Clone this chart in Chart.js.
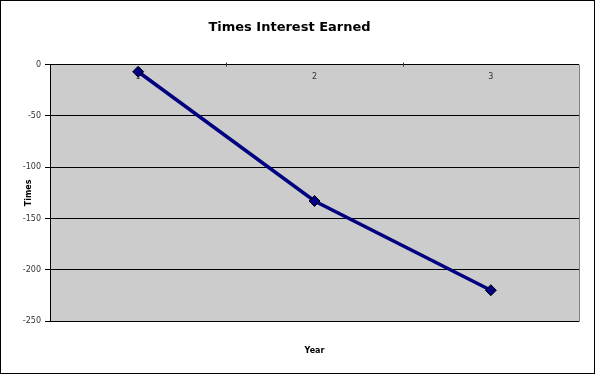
<!DOCTYPE html>
<html>
<head>
<meta charset="utf-8">
<script src="https://cdn.jsdelivr.net/npm/chart.js@4/dist/chart.umd.min.js"></script>
<style>
  html, body { margin: 0; padding: 0; background: #fff; }
  #wrap { width: 595px; height: 374px; position: relative; }
</style>
</head>
<body>
<div id="wrap"><canvas id="chartTIE" width="595" height="374"></canvas></div>
<script>
// data kept in small arrays
const years = ['1', '2', '3'];
const timesEarned = [-7, -133, -220];
const yTicks = [0, -50, -100, -150, -200, -250];

// grey plot background + outer frame
const plotBg = {
  id: 'plotBg',
  beforeDraw(chart) {
    const { ctx, chartArea: a } = chart;
    ctx.save();
    ctx.fillStyle = '#cccccc';
    ctx.fillRect(a.left, a.top, a.right - a.left, a.bottom - a.top);
    ctx.strokeStyle = '#808080';
    ctx.lineWidth = 1;
    ctx.beginPath();
    ctx.moveTo(a.left, a.bottom + 0.5);
    ctx.lineTo(a.right + 0.5, a.bottom + 0.5);
    ctx.lineTo(a.right + 0.5, a.top);
    ctx.stroke();
    ctx.restore();
  },
  afterDraw(chart) {
    const ctx = chart.ctx;
    ctx.save();
    ctx.strokeStyle = '#000';
    ctx.lineWidth = 1;
    ctx.strokeRect(0.5, 0.5, chart.width - 1, chart.height - 1);
    ctx.restore();
  }
};

// category labels sit just under the zero line (axis crosses at 0)
const topLabels = {
  id: 'topLabels',
  beforeDatasetsDraw(chart) {
    const { ctx, chartArea: a } = chart;
    const x = chart.scales.x;
    ctx.save();
    ctx.font = '8px "DejaVu Sans"';
    ctx.fillStyle = '#333';
    ctx.textAlign = 'center';
    ctx.textBaseline = 'middle';
    years.forEach((lab, i) => {
      ctx.fillText(lab, x.getPixelForValue(i), a.top + 12);
    });
    // small tick marks between categories
    ctx.strokeStyle = '#333';
    ctx.beginPath();
    for (let i = 1; i < years.length; i++) {
      const px = Math.round((x.getPixelForValue(i - 1) + x.getPixelForValue(i)) / 2) + 0.5;
      ctx.moveTo(px, a.top - 2);
      ctx.lineTo(px, a.top + 2);
    }
    ctx.stroke();
    ctx.restore();
  }
};

const config = {
  type: 'line',
  data: {
    labels: years,
    datasets: [{
      label: 'Times Interest Earned',
      data: timesEarned,
      borderColor: '#000080',
      borderWidth: 3.5,
      backgroundColor: '#000080',
      pointStyle: 'rectRot',
      pointRadius: 5.5,
      pointBackgroundColor: '#000080',
      pointBorderColor: '#000',
      pointBorderWidth: 1,
      tension: 0,
      clip: false
    }]
  },
  options: {
    responsive: false,
    animation: false,
    layout: { padding: { left: 0, right: 16, top: 0, bottom: 0 } },
    plugins: {
      legend: { display: false },
      tooltip: { enabled: false },
      title: {
        display: true,
        text: 'Times Interest Earned',
        color: '#000',
        font: { family: 'DejaVu Sans', size: 13, weight: 'bold' },
        padding: { top: 20, bottom: 29 }
      }
    },
    scales: {
      x: {
        type: 'category',
        offset: true,
        grid: { display: false },
        border: { display: false },
        ticks: { display: false },
        title: {
          display: true,
          text: 'Year',
          color: '#000',
          font: { family: 'DejaVu Sans', size: 8, weight: 'bold' },
          padding: { top: 0, bottom: 18 }
        },
        afterFit(scale) { scale.height = 53; }
      },
      y: {
        min: -250,
        max: 0,
        afterBuildTicks(scale) {
          scale.ticks = yTicks.map(v => ({ value: v }));
        },
        grid: {
          color: '#000',
          lineWidth: 1,
          tickLength: 5,
          tickColor: '#000'
        },
        border: { display: true, color: '#000', width: 1 },
        ticks: {
          color: '#333',
          padding: 4,
          font: { family: 'DejaVu Sans', size: 8 }
        },
        title: {
          display: true,
          text: 'Times',
          color: '#000',
          font: { family: 'DejaVu Sans', size: 8, weight: 'bold' },
          padding: { top: 24, bottom: 0 }
        },
        afterFit(scale) { scale.width = 50; }
      }
    }
  },
  plugins: [plotBg, topLabels]
};

const chartTIE = new Chart(document.getElementById('chartTIE'), config);
</script>
</body>
</html>
